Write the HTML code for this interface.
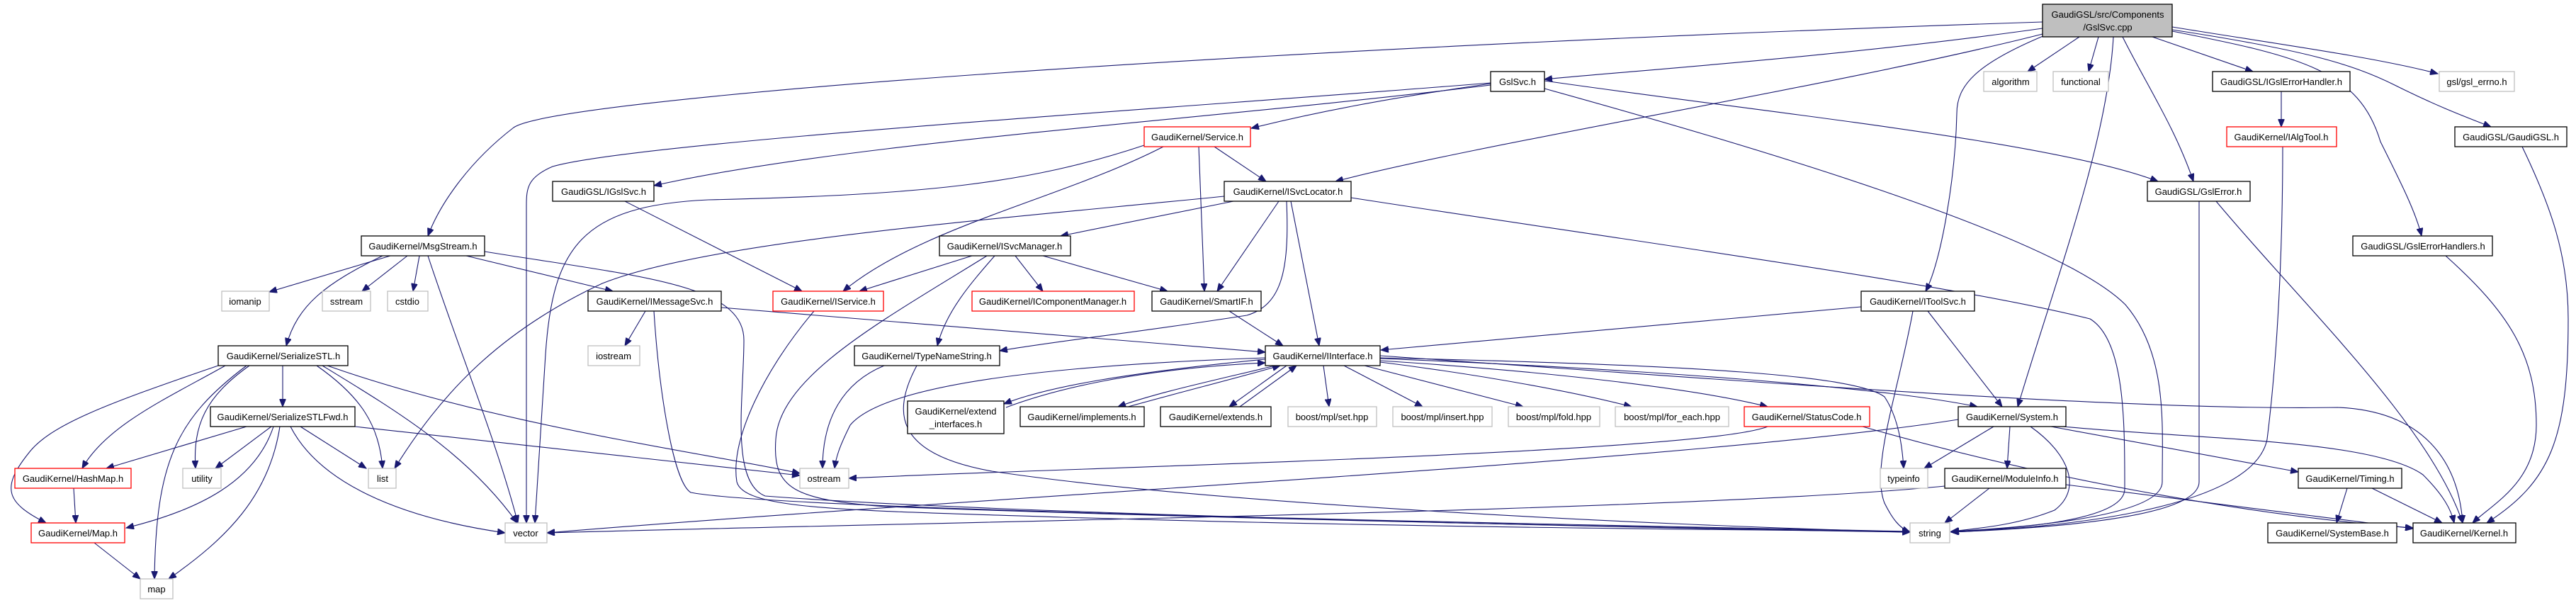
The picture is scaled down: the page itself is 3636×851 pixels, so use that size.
<!DOCTYPE html>
<html><head><meta charset="utf-8"><style>
html,body{margin:0;padding:0;background:#fff;}
svg{display:block;}
.b{fill:#fff;stroke:#000;stroke-width:1.3}
.g{fill:#fff;stroke:#bfbfbf;stroke-width:1.3}
.r{fill:#fff;stroke:#f00;stroke-width:1.3}
.c{fill:#bfbfbf;stroke:#000;stroke-width:1.3}
text{font-family:"Liberation Sans",Arial,sans-serif;font-size:13px;fill:#000;text-anchor:middle}
path{fill:none;stroke:#191970;stroke-width:1.1;marker-end:url(#a)}
path.bi{marker-start:url(#s)}
</style></head><body>
<svg width="3636" height="851" viewBox="0 0 3636 851" xmlns="http://www.w3.org/2000/svg">
<defs>
<marker id="a" markerUnits="userSpaceOnUse" markerWidth="12" markerHeight="9" refX="11" refY="4.5" orient="auto"><path d="M0,0 L11,4.5 L0,9 z" style="fill:#191970;stroke:#191970;stroke-width:1;marker-end:none"/></marker>
<marker id="s" markerUnits="userSpaceOnUse" markerWidth="12" markerHeight="9" refX="11" refY="4.5" orient="auto-start-reverse"><path d="M0,0 L11,4.5 L0,9 z" style="fill:#191970;stroke:#191970;stroke-width:1;marker-end:none"/></marker>
</defs>

<!-- edges -->
<g>
<!-- cpp -->
<path d="M2883,31 C1700,70 780,140 725,180 C660,230 620,290 604,333"/>
<path d="M2883,40 C2600,80 2300,100 2180,112"/>
<path d="M2883,48 C2600,120 2100,200 1885,256"/>
<path d="M2935,52 L2862,101"/>
<path d="M2962,52 L2948,101"/>
<path d="M2886,50 C2790,90 2762,120 2762,160 C2760,250 2740,370 2718,411"/>
<path d="M2983,52 C2975,200 2900,400 2848,574"/>
<path d="M2996,52 C3030,120 3070,180 3096,256"/>
<path d="M3038,52 L3180,101"/>
<path d="M3066,38 C3200,60 3350,80 3441,104"/>
<path d="M3066,42 C3250,70 3320,90 3380,120 C3440,150 3480,165 3516,179"/>
<path d="M3066,44 C3250,80 3330,100 3360,200 C3390,260 3410,300 3418,333"/>
<!-- GslSvc.h -->
<path d="M2104,118 C1950,140 1850,160 1766,181"/>
<path d="M2104,120 C1700,170 1200,200 923,262"/>
<path d="M2104,117 C1700,150 900,200 780,235 C745,250 743,265 743,290 L743,738"/>
<path d="M2180,114 C2500,160 2900,200 3046,256"/>
<path d="M2180,125 C2450,200 2900,330 3000,430 C3060,500 3052,600 3052,680 C3052,730 2850,745 2754,750"/>
<!-- Service.h -->
<path d="M1714,207 L1787,256"/>
<path d="M1642,207 C1500,280 1300,320 1190,411"/>
<path d="M1692,207 L1700,411"/>
<path d="M1615,205 C1450,260 1300,275 1000,282 C820,290 780,350 770,500 L755,738"/>
<path d="M882,284 L1132,411"/>
<!-- ISvcLocator -->
<path d="M1728,277 C1400,310 1000,340 850,400 C700,470 620,560 557,661"/>
<path d="M1741,284 L1497,333"/>
<path d="M1805,284 L1718,411"/>
<path d="M1822,284 L1862,488"/>
<path d="M1816,284 C1820,380 1810,430 1760,445 C1600,470 1500,480 1411,495"/>
<path d="M1907,279 C2300,340 2750,400 2950,450 C3000,480 2999,600 2999,690 C2999,735 2850,745 2754,751"/>
<!-- ISvcManager -->
<path d="M1372,361 L1213,411"/>
<path d="M1433,361 L1472,411"/>
<path d="M1472,361 L1648,411"/>
<path d="M1404,361 C1370,400 1335,440 1323,488"/>
<path d="M1393,361 C1250,450 1100,530 1095,620 C1090,690 1120,705 1250,715 C1800,735 2400,745 2696,751"/>
<!-- MsgStream -->
<path d="M551,361 L380,412"/>
<path d="M575,361 L511,411"/>
<path d="M592,361 L583,411"/>
<path d="M540,361 C460,400 420,430 404,488"/>
<path d="M658,361 L865,411"/>
<path d="M604,361 C650,500 700,620 731,738"/>
<path d="M684,355 C900,390 1050,400 1050,480 C1050,560 1030,680 1080,700 C1400,725 2300,745 2696,751"/>
<!-- IMessageSvc -->
<path d="M911,439 L882,488"/>
<path d="M1018,434 L1786,497"/>
<path d="M923,439 C930,550 950,680 975,695 C1100,720 2200,740 2696,750"/>
<!-- IService -->
<path d="M1149,439 C1080,520 1030,620 1040,680 C1050,720 1200,720 1500,730 C2000,745 2500,748 2696,750"/>
<!-- SmartIF -->
<path d="M1735,439 L1811,488"/>
<!-- TypeNameString -->
<path d="M1248,516 C1190,540 1161,590 1161,661"/>
<path d="M1294,516 C1260,580 1260,640 1400,665 C1700,710 2300,740 2696,751"/>
<!-- SerializeSTL -->
<path d="M318,516 C240,560 150,600 116,661"/>
<path d="M308,516 C150,570 70,600 40,640 C0,690 10,710 65,738"/>
<path d="M348,516 C250,590 220,650 218,817"/>
<path d="M352,516 C290,560 272,600 276,661"/>
<path d="M399,516 L399,574"/>
<path d="M447,516 C510,560 535,600 540,661"/>
<path d="M455,516 C560,580 660,640 730,738"/>
<path d="M462,516 C700,600 1000,640 1129,668"/>
<!-- SerializeSTLFwd -->
<path d="M348,602 L150,661"/>
<path d="M383,602 L304,661"/>
<path d="M386,602 C360,680 280,720 178,745"/>
<path d="M395,602 C380,700 320,760 238,817"/>
<path d="M424,602 L517,661"/>
<path d="M410,602 C450,680 560,730 713,752"/>
<path d="M501,602 L1129,671"/>
<path d="M104,689 L107,738"/>
<path d="M133,766 L198,817"/>
<!-- IInterface -->
<path d="M1786,507 C1600,525 1480,545 1417,570"/>
<path d="M1420,575 C1500,545 1620,520 1786,512"/>
<path d="M1800,516 C1700,540 1630,555 1578,574"/>
<path d="M1585,576 C1660,555 1740,535 1807,516"/>
<path d="M1816,516 L1735,574"/>
<path d="M1750,574 L1830,516"/>
<path d="M1868,516 L1876,574"/>
<path d="M1897,516 L2008,574"/>
<path d="M1926,516 L2150,574"/>
<path d="M1948,511 C2100,530 2230,555 2303,574"/>
<path d="M1948,509 C2200,525 2400,550 2495,574"/>
<path d="M1948,506 C2300,520 2650,545 2791,574"/>
<path d="M1948,505 C2400,515 2620,530 2660,560 C2680,590 2685,630 2687,661"/>
<path d="M1948,502 C2500,540 3000,580 3300,575 C3420,580 3470,650 3476,738"/>
<path d="M1786,505 C1500,515 1250,540 1200,600 C1185,630 1180,645 1178,661"/>
<!-- StatusCode -->
<path d="M2495,602 C2400,640 1500,660 1198,675"/>
<path d="M2629,602 C2900,680 3200,730 3406,745"/>
<!-- System -->
<path d="M2764,592 C2400,650 1400,700 772,752"/>
<path d="M2814,602 L2716,661"/>
<path d="M2837,602 L2833,661"/>
<path d="M2866,602 C2920,640 2940,690 2900,720 C2850,740 2800,745 2754,750"/>
<path d="M2895,602 L3244,666"/>
<path d="M2912,602 C3100,620 3350,620 3420,670 C3450,700 3460,720 3464,738"/>
<!-- IToolSvc -->
<path d="M2627,433 L1949,494"/>
<path d="M2721,439 L2826,574"/>
<path d="M2700,439 C2680,550 2640,660 2660,710 C2670,730 2680,745 2696,751"/>
<!-- ModuleInfo -->
<path d="M2808,689 L2745,738"/>
<path d="M2916,684 L3406,746"/>
<path d="M2745,686 C2400,720 1400,735 772,752"/>
<!-- Timing -->
<path d="M3313,689 L3298,738"/>
<path d="M3348,689 L3447,738"/>
<!-- GslError -->
<path d="M3104,284 L3104,680 C3104,730 2900,745 2754,751"/>
<path d="M3128,284 C3250,430 3430,600 3476,738"/>
<path d="M3220,129 L3220,179"/>
<path d="M3222,207 C3222,350 3215,500 3200,620 C3180,720 2900,745 2754,751"/>
<path d="M3560,207 C3600,290 3625,360 3625,450 C3625,620 3600,680 3510,738"/>
<path d="M3452,361 C3540,440 3580,500 3580,600 C3580,680 3520,710 3490,738"/>
</g>

<!-- nodes -->
<rect class="c" x="2883" y="6" width="183" height="46"/>
<text x="2975" y="25">GaudiGSL/src/Components</text><text x="2975" y="43">/GslSvc.cpp</text>

<rect class="b" x="2104" y="101" width="76" height="28"/><text x="2142" y="120">GslSvc.h</text>
<rect class="g" x="2800" y="101" width="75" height="28"/><text x="2838" y="120">algorithm</text>
<rect class="g" x="2898" y="101" width="78" height="28"/><text x="2937" y="120">functional</text>
<rect class="b" x="3123" y="101" width="194" height="28"/><text x="3220" y="120">GaudiGSL/IGslErrorHandler.h</text>
<rect class="g" x="3443" y="101" width="106" height="28"/><text x="3496" y="120">gsl/gsl_errno.h</text>

<rect class="r" x="3143" y="179" width="155" height="28"/><text x="3220" y="198">GaudiKernel/IAlgTool.h</text>
<rect class="b" x="3465" y="179" width="158" height="28"/><text x="3544" y="198">GaudiGSL/GaudiGSL.h</text>
<rect class="r" x="1615" y="179" width="150" height="28"/><text x="1690" y="198">GaudiKernel/Service.h</text>

<rect class="b" x="780" y="256" width="143" height="28"/><text x="852" y="275">GaudiGSL/IGslSvc.h</text>
<rect class="b" x="1728" y="256" width="179" height="28"/><text x="1818" y="275">GaudiKernel/ISvcLocator.h</text>
<rect class="b" x="3031" y="256" width="145" height="28"/><text x="3103" y="275">GaudiGSL/GslError.h</text>

<rect class="b" x="510" y="333" width="174" height="28"/><text x="597" y="352">GaudiKernel/MsgStream.h</text>
<rect class="b" x="1326" y="333" width="185" height="28"/><text x="1418" y="352">GaudiKernel/ISvcManager.h</text>
<rect class="b" x="3321" y="333" width="197" height="28"/><text x="3420" y="352">GaudiGSL/GslErrorHandlers.h</text>

<rect class="g" x="313" y="411" width="67" height="28"/><text x="346" y="430">iomanip</text>
<rect class="g" x="455" y="411" width="68" height="28"/><text x="489" y="430">sstream</text>
<rect class="g" x="547" y="411" width="57" height="28"/><text x="575" y="430">cstdio</text>
<rect class="b" x="830" y="411" width="188" height="28"/><text x="924" y="430">GaudiKernel/IMessageSvc.h</text>
<rect class="r" x="1091" y="411" width="156" height="28"/><text x="1169" y="430">GaudiKernel/IService.h</text>
<rect class="r" x="1372" y="411" width="229" height="28"/><text x="1486" y="430">GaudiKernel/IComponentManager.h</text>
<rect class="b" x="1626" y="411" width="154" height="28"/><text x="1703" y="430">GaudiKernel/SmartIF.h</text>
<rect class="b" x="2627" y="411" width="160" height="28"/><text x="2707" y="430">GaudiKernel/IToolSvc.h</text>

<rect class="b" x="308" y="488" width="183" height="28"/><text x="400" y="507">GaudiKernel/SerializeSTL.h</text>
<rect class="g" x="830" y="488" width="73" height="28"/><text x="866" y="507">iostream</text>
<rect class="b" x="1206" y="488" width="205" height="28"/><text x="1308" y="507">GaudiKernel/TypeNameString.h</text>
<rect class="b" x="1786" y="488" width="162" height="28"/><text x="1867" y="507">GaudiKernel/IInterface.h</text>

<rect class="b" x="297" y="574" width="204" height="28"/><text x="399" y="593">GaudiKernel/SerializeSTLFwd.h</text>
<rect class="b" x="1281" y="566" width="136" height="46"/><text x="1349" y="585">GaudiKernel/extend</text><text x="1349" y="603">_interfaces.h</text>
<rect class="b" x="1440" y="574" width="175" height="28"/><text x="1527" y="593">GaudiKernel/implements.h</text>
<rect class="b" x="1638" y="574" width="156" height="28"/><text x="1716" y="593">GaudiKernel/extends.h</text>
<rect class="g" x="1818" y="574" width="125" height="28"/><text x="1880" y="593">boost/mpl/set.hpp</text>
<rect class="g" x="1966" y="574" width="140" height="28"/><text x="2036" y="593">boost/mpl/insert.hpp</text>
<rect class="g" x="2129" y="574" width="129" height="28"/><text x="2193" y="593">boost/mpl/fold.hpp</text>
<rect class="g" x="2280" y="574" width="160" height="28"/><text x="2360" y="593">boost/mpl/for_each.hpp</text>
<rect class="r" x="2462" y="574" width="177" height="28"/><text x="2550" y="593">GaudiKernel/StatusCode.h</text>
<rect class="b" x="2764" y="574" width="152" height="28"/><text x="2840" y="593">GaudiKernel/System.h</text>

<rect class="r" x="21" y="661" width="164" height="28"/><text x="103" y="680">GaudiKernel/HashMap.h</text>
<rect class="g" x="258" y="661" width="54" height="28"/><text x="285" y="680">utility</text>
<rect class="g" x="520" y="661" width="39" height="28"/><text x="540" y="680">list</text>
<rect class="g" x="1129" y="661" width="69" height="28"/><text x="1163" y="680">ostream</text>
<rect class="g" x="2654" y="661" width="67" height="28"/><text x="2687" y="680">typeinfo</text>
<rect class="b" x="2745" y="661" width="171" height="28"/><text x="2830" y="680">GaudiKernel/ModuleInfo.h</text>
<rect class="b" x="3244" y="661" width="146" height="28"/><text x="3317" y="680">GaudiKernel/Timing.h</text>

<rect class="r" x="44" y="738" width="132" height="28"/><text x="110" y="757">GaudiKernel/Map.h</text>
<rect class="g" x="713" y="738" width="59" height="28"/><text x="742" y="757">vector</text>
<rect class="g" x="2696" y="738" width="56" height="28"/><text x="2724" y="757">string</text>
<rect class="b" x="3201" y="738" width="182" height="28"/><text x="3292" y="757">GaudiKernel/SystemBase.h</text>
<rect class="b" x="3406" y="738" width="145" height="28"/><text x="3478" y="757">GaudiKernel/Kernel.h</text>

<rect class="g" x="198" y="817" width="46" height="28"/><text x="221" y="836">map</text>
</svg>
</body></html>
